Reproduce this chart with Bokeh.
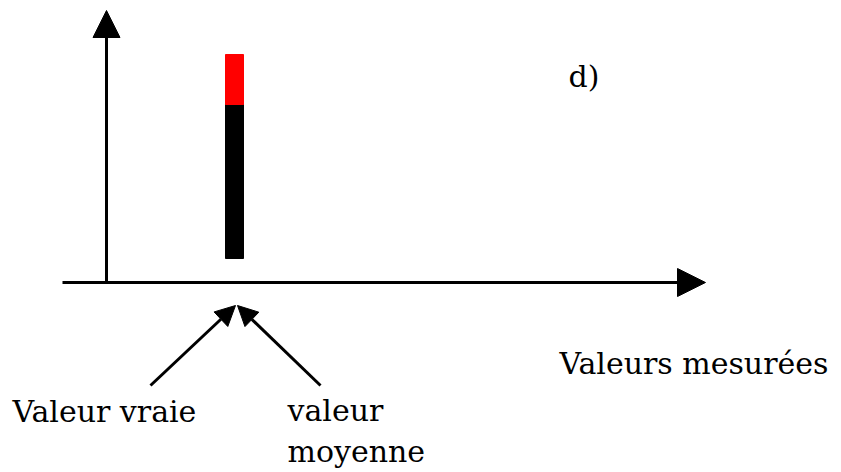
from bokeh.plotting import figure
from bokeh.models import Range1d, Arrow, NormalHead, ColumnDataSource
from bokeh.core.properties import value
from bokeh.embed import file_html
from bokeh.resources import INLINE

# --- data (units relative to the axes origin) ---
bar_x = [128]          # position of the measurements (true value = mean value)
bar_base = [24]
bar_mean = [178]       # top of the black part
bar_top = [228]        # top of the red part

axis_x_extent = [-44, 599]
axis_y_extent = [0, 272]

label_texts = ["Valeur vraie", "valeur", "moyenne", "Valeurs mesurées", "d)"]
label_x = [-94, 181, 181, 453, 462]
label_y = [-141, -140, -181, -93, 194]

pointer_start_x = [44, 214]
pointer_start_y = [-103, -103]
pointer_end_x = [129, 131]
pointer_end_y = [-23, -23]

W, H = 841, 472
OX, OY = 106, 282
p = figure(width=W, height=H, x_range=Range1d(-OX, W - OX), y_range=Range1d(OY - H, OY),
           output_backend="svg", toolbar_location=None, min_border=0,
           x_axis_location=None, y_axis_location=None)
p.grid.visible = False
p.outline_line_color = None
p.background_fill_color = "white"
p.border_fill_color = "white"

# bar
p.vbar(x=bar_x, width=18, bottom=bar_base, top=bar_mean, color="black")
p.vbar(x=bar_x, width=18, bottom=bar_mean, top=bar_top, color="red")

# axes with arrows
p.add_layout(Arrow(x_start=axis_x_extent[0], y_start=0, x_end=axis_x_extent[1], y_end=0,
                   line_width=3, line_color="black",
                   end=NormalHead(size=28, fill_color="black", line_color="black", line_width=1)))
p.add_layout(Arrow(x_start=0, y_start=axis_y_extent[0], x_end=0, y_end=axis_y_extent[1],
                   line_width=3, line_color="black",
                   end=NormalHead(size=27, fill_color="black", line_color="black", line_width=1)))

# pointer arrows
for xs, ys, xe, ye in zip(pointer_start_x, pointer_start_y, pointer_end_x, pointer_end_y):
    p.add_layout(Arrow(x_start=xs, y_start=ys, x_end=xe, y_end=ye,
                       line_width=3, line_color="black",
                       end=NormalHead(size=20, fill_color="black", line_color="black", line_width=1)))

src = ColumnDataSource(dict(x=label_x, y=label_y, t=label_texts))
p.text(x="x", y="y", text="t", source=src, text_font=value("DejaVu Serif"),
       text_font_size="30px", text_color="black", text_align="left", text_baseline="alphabetic",
       y_offset=-12)

open("out.html", "w").write(file_html(p, INLINE))
